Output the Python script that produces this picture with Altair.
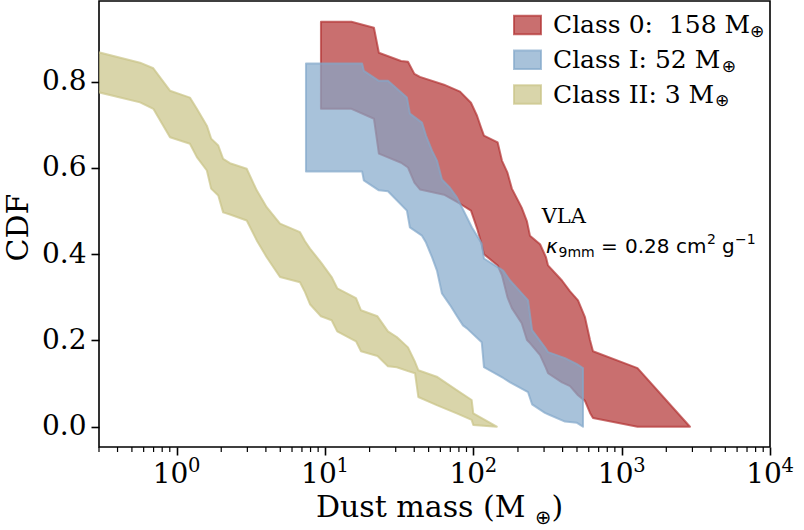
import altair as alt
import pandas as pd

# ---------------- data ----------------
# Class 0: dust mass (M_earth) with the lower / upper CDF at each mass
class0_mass = [9.40, 15.1, 21.4, 23.1, 32.6, 36.3, 40.1, 43.7, 63.5, 81.4,
               96.5, 106, 113, 118, 146, 156, 170, 182, 212, 230,
               241, 282, 309, 319, 396, 449, 508, 566, 612, 641,
               1279, 2888]
class0_lo = [0.737, 0.737, 0.714, 0.633, 0.612, 0.601, 0.566, 0.550, 0.538, 0.517,
             0.501, 0.460, 0.427, 0.400, 0.374, 0.351, 0.300, 0.275, 0.240, 0.201,
             0.194, 0.166, 0.136, 0.124, 0.103, 0.094, 0.073, 0.060, 0.032, 0.020,
             0.000, 0.000]
class0_hi = [0.939, 0.939, 0.925, 0.867, 0.848, 0.846, 0.818, 0.811, 0.793, 0.777,
             0.751, 0.721, 0.693, 0.675, 0.659, 0.617, 0.589, 0.552, 0.508, 0.476,
             0.443, 0.423, 0.393, 0.374, 0.339, 0.314, 0.293, 0.254, 0.201, 0.175,
             0.136, 0.000]

# Class I
class1_mass = [7.45, 17.8, 18.3, 23.1, 26.6, 35.7, 37.4, 45.1, 48.0, 52.7,
               56.9, 61.5, 69.7, 77.7, 85.2, 90.7, 98.0, 114, 118, 159,
               177, 234, 249, 304, 319, 415, 500, 549]
class1_lo = [0.592, 0.592, 0.571, 0.548, 0.546, 0.501, 0.462, 0.443, 0.427, 0.393,
             0.362, 0.309, 0.282, 0.256, 0.235, 0.228, 0.217, 0.196, 0.138, 0.113,
             0.103, 0.080, 0.052, 0.032, 0.029, 0.012, 0.009, 0.000]
class1_hi = [0.842, 0.842, 0.825, 0.802, 0.802, 0.763, 0.726, 0.705, 0.675, 0.640,
             0.617, 0.573, 0.554, 0.531, 0.504, 0.485, 0.462, 0.425, 0.390, 0.362,
             0.339, 0.293, 0.224, 0.184, 0.173, 0.159, 0.145, 0.136]

# Class II
class2_mass = [0.200, 0.567, 0.697, 0.903, 1.23, 1.37, 1.60, 1.71, 1.91, 2.06,
               2.29, 2.97, 3.47, 4.05, 4.98, 6.79, 7.34, 7.93, 9.40, 11.1,
               12.1, 16.2, 17.5, 22.6, 26.6, 30.5, 36.3, 40.5, 42.6, 56.7,
               77.3, 97.5, 100, 144]
class2_lo = [0.790, 0.752, 0.737, 0.671, 0.656, 0.625, 0.594, 0.552, 0.536, 0.497,
             0.492, 0.478, 0.432, 0.393, 0.347, 0.335, 0.312, 0.284, 0.256, 0.247,
             0.221, 0.198, 0.175, 0.164, 0.140, 0.138, 0.129, 0.124, 0.069, 0.050,
             0.031, 0.016, 0.004, 0.000]
class2_hi = [0.883, 0.844, 0.831, 0.779, 0.763, 0.737, 0.698, 0.668, 0.652, 0.621,
             0.611, 0.598, 0.548, 0.509, 0.471, 0.451, 0.430, 0.413, 0.381, 0.347,
             0.321, 0.298, 0.270, 0.256, 0.221, 0.208, 0.184, 0.150, 0.131, 0.116,
             0.085, 0.062, 0.031, 0.000]

legend_labels = ["Class 0:\u00a0 158 M", "Class I: 52 M", "Class II: 3 M"]
class_colors = ["#b23232", "#83a8ca", "#c9c386"]

major_ticks = [1, 10, 100, 1000, 10000]
major_exponents = ["0", "1", "2", "3", "4"]
minor_ticks = [0.3, 0.4, 0.5, 0.6, 0.7, 0.8, 0.9,
               2, 3, 4, 5, 6, 7, 8, 9,
               20, 30, 40, 50, 60, 70, 80, 90,
               200, 300, 400, 500, 600, 700, 800, 900,
               2000, 3000, 4000, 5000, 6000, 7000, 8000, 9000]
cdf_ticks = [0.0, 0.2, 0.4, 0.6, 0.8]

# ---------------- layout ----------------
W, H = 671, 446
SERIF = "DejaVu Serif"
SANS = "DejaVu Sans"
ALPHA = 0.7

xscale = alt.Scale(type="log", domain=[0.3, 1.0e4], nice=False)
yscale = alt.Scale(domain=[-0.047, 0.987], nice=False, zero=False)

xaxis = alt.Axis(values=major_ticks, labels=False, ticks=True, tickSize=8,
                 tickWidth=1.6, tickColor="black", domain=False, grid=False,
                 title=None)
yaxis = alt.Axis(values=cdf_ticks, format=".1f", labelFont=SERIF,
                 labelFontSize=28, labelColor="black", labelPadding=5,
                 tickSize=8, tickWidth=1.6, tickColor="black", domain=False,
                 grid=False, title="CDF", titleFont=SERIF, titleFontSize=30,
                 titleFontWeight="normal", titleColor="black", titleAngle=270,
                 titleX=-81, titleY=226, titleAlign="center",
                 titleBaseline="middle")


def band(mass, lo, hi, color):
    df = pd.DataFrame({"mass": mass, "lo": lo, "hi": hi})
    return alt.Chart(df).mark_area(
        clip=True, fill=color, fillOpacity=ALPHA, stroke=color,
        strokeOpacity=ALPHA, strokeWidth=2, strokeJoin="round",
    ).encode(
        x=alt.X("mass:Q", scale=xscale, axis=xaxis),
        y=alt.Y("lo:Q", scale=yscale, axis=yaxis),
        y2="hi:Q",
    )


one = pd.DataFrame({"k": [0]})


def label(text, x, y, size, font=SERIF, style="normal"):
    return alt.Chart(one).mark_text(
        text=text, font=font, fontSize=size, fontStyle=style, color="black",
        align="left", baseline="alphabetic",
    ).encode(x=alt.value(x), y=alt.value(y))


layers = [
    band(class0_mass, class0_lo, class0_hi, class_colors[0]),
    band(class1_mass, class1_lo, class1_hi, class_colors[1]),
    band(class2_mass, class2_lo, class2_hi, class_colors[2]),
]

# minor ticks on the log axis
layers.append(
    alt.Chart(pd.DataFrame({"m": minor_ticks})).mark_rule(
        color="black", strokeWidth=1.2
    ).encode(x=alt.X("m:Q", scale=xscale, axis=xaxis),
             y=alt.value(H), y2=alt.value(H + 5))
)

# x tick labels written as 10^n
tick_df = pd.DataFrame({"v": major_ticks, "base": ["10"] * 5,
                        "exp": major_exponents})
layers.append(
    alt.Chart(tick_df).mark_text(
        font=SERIF, fontSize=28, color="black", align="center",
        baseline="alphabetic", dx=-6
    ).encode(x=alt.X("v:Q", scale=xscale, axis=xaxis), y=alt.value(482),
             text="base:N")
)
layers.append(
    alt.Chart(tick_df).mark_text(
        font=SERIF, fontSize=19.5, color="black", align="left",
        baseline="alphabetic", dx=11.5
    ).encode(x=alt.X("v:Q", scale=xscale, axis=xaxis), y=alt.value(471),
             text="exp:N")
)

# x axis title
layers += [
    label("Dust mass (M", 217, 515.5, 30),
    label("\u2295", 436, 523, 19.5, font=SANS),
    label(")", 452.5, 515.5, 30),
]

# legend
leg_top = [14.7, 49.5, 84.2]
leg_base = [32.3, 67.0, 101.6]
oplus_x = [651, 622.7, 616]
for i in range(3):
    layers.append(
        alt.Chart(one).mark_rect(
            fill=class_colors[i], fillOpacity=ALPHA, stroke=class_colors[i],
            strokeOpacity=ALPHA, strokeWidth=2
        ).encode(x=alt.value(415), x2=alt.value(442),
                 y=alt.value(leg_top[i]), y2=alt.value(leg_top[i] + 18.6))
    )
    layers.append(label(legend_labels[i], 454, leg_base[i], 25))
    layers.append(label("\u2295", oplus_x[i], leg_base[i] + 3.5, 17, font=SANS))

# annotation
layers += [
    label("VLA", 442.7, 222.3, 21),
    label("\u03ba", 447, 252.3, 20, font=SANS, style="italic"),
    label("9mm", 459.5, 256.3, 14, font=SANS),
    label("=", 502, 252.3, 20, font=SANS),
    label("0.28", 526, 252.3, 20, font=SANS),
    label("cm", 577, 252.3, 20, font=SANS),
    label("2", 608, 243.3, 14, font=SANS),
    label("g", 623, 252.3, 20, font=SANS),
    label("\u22121", 636, 243.3, 14, font=SANS),
]

chart = alt.layer(*layers).properties(
    width=W, height=H,
    autosize=alt.AutoSizeParams(type="none"),
    padding={"left": 99, "top": 1, "right": 34, "bottom": 83},
    background="white",
).configure_view(stroke="black", strokeWidth=1.6)

chart.save("out.html", embed_options={"renderer": "svg", "actions": False})
